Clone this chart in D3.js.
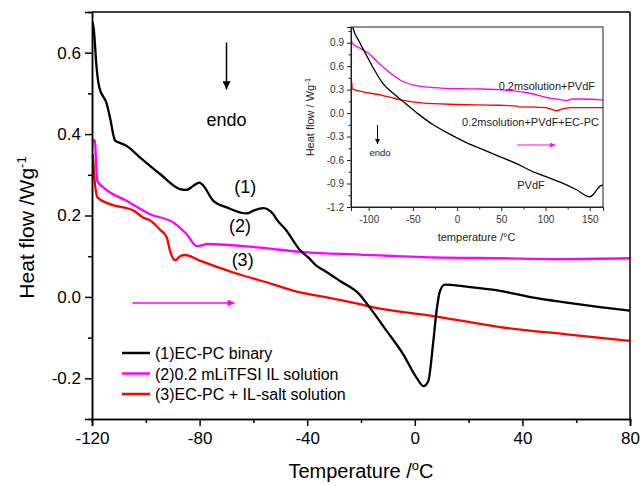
<!DOCTYPE html>
<html><head><meta charset="utf-8">
<script src="https://cdn.jsdelivr.net/npm/d3@7"></script>
<style>
html,body{margin:0;padding:0;background:#fff;}
svg{display:block;font-family:"Liberation Sans",Arial,Helvetica,sans-serif;}
</style></head>
<body>
<svg id="c" width="642" height="485"></svg>
<script>
// ---------- main chart data ----------
const xTicks = [-120, -80, -40, 0, 40, 80];
const yTicks = [-0.2, 0.0, 0.2, 0.4, 0.6];
const seriesNames = ["(1)EC-PC binary", "(2)0.2 mLiTFSI IL solution", "(3)EC-PC + IL-salt solution"];
const seriesColors = ["#000000", "#ff00ff", "#ff0000"];

const ecpcT = [-120, -119.8, -119.3, -118.3, -117.3, -114.5, -113.3, -111.4, -110.2, -107.1, -102.2, -94.7, -87.3, -84.8, -82.3, -80.1, -78.6, -74.9, -69.9, -62.5, -60, -56.3, -52.6, -51.3, -47.6, -45.2, -42.7, -39.6, -36.5, -34, -27.8, -20.4, -17.9, -10.4, -4.3, 0.7, 3.2, 5, 6.9, 8.1, 9.4, 11.2, 19.3, 31.7, 44.1, 56.5, 68.8, 80];
const ecpcV = [0.66, 0.675, 0.655, 0.564, 0.515, 0.474, 0.44, 0.384, 0.38, 0.371, 0.343, 0.302, 0.265, 0.263, 0.273, 0.281, 0.273, 0.236, 0.22, 0.205, 0.212, 0.218, 0.203, 0.19, 0.162, 0.138, 0.115, 0.097, 0.076, 0.066, 0.039, 0.005, -0.016, -0.084, -0.141, -0.199, -0.219, -0.207, -0.108, -0.034, 0.015, 0.03, 0.025, 0.015, -0.002, -0.014, -0.025, -0.034];

const ilT = [-120, -119.7, -118.9, -118.6, -118, -115.8, -107.1, -98.4, -89.8, -84.8, -81.1, -78.6, -77.4, -57.5, -41.4, -20.4, 6.9, 31.7, 54, 80];
const ilV = [0.36, 0.384, 0.385, 0.343, 0.285, 0.269, 0.236, 0.203, 0.183, 0.154, 0.125, 0.128, 0.13, 0.121, 0.11, 0.104, 0.097, 0.095, 0.093, 0.095];

const mixT = [-120, -119.7, -119.2, -117.9, -113.3, -104.6, -101, -98.4, -94.7, -92.2, -91, -89.1, -87.3, -85.4, -79.9, -67.5, -52.6, -42.7, -35.2, -20.4, -17.9, 6.9, 31.7, 56.5, 80];
const mixV = [0.285, 0.351, 0.30, 0.244, 0.228, 0.212, 0.195, 0.188, 0.165, 0.146, 0.113, 0.09, 0.1, 0.103, 0.089, 0.06, 0.031, 0.011, 0.002, -0.018, -0.022, -0.047, -0.074, -0.092, -0.108];

const curveLabels = ["(1)", "(2)", "(3)"];

// ---------- inset data ----------
const inXTicks = [-100, -50, 0, 50, 100, 150];
const inYTicks = [-1.2, -0.9, -0.6, -0.3, 0.0, 0.3, 0.6, 0.9];
const inNames = ["0.2msolution+PVdF", "0.2msolution+PVdF+EC-PC", "PVdF"];

const inMagT = [-120, -119.5, -118.5, -110, -101, -86, -64, -41, -18, 20, 47, 80, 105, 118, 124, 130, 140, 165];
const inMagV = [0.86, 0.93, 0.89, 0.83, 0.77, 0.61, 0.42, 0.34, 0.32, 0.31, 0.30, 0.26, 0.19, 0.17, 0.16, 0.18, 0.18, 0.17];

const inRedT = [-120, -119.5, -118.5, -110, -86, -75, -64, -40, 0, 47, 68, 70, 75, 100, 113, 118, 128, 165];
const inRedV = [0.33, 0.42, 0.31, 0.28, 0.23, 0.20, 0.17, 0.13, 0.11, 0.10, 0.09, 0.075, 0.08, 0.07, 0.03, 0.05, 0.07, 0.07];

const inBlkT = [-122, -118, -111, -104, -94, -84, -72, -59, -44, -27, -10, 11, 30, 49, 68, 86, 100, 116, 135, 150, 154, 158, 162, 165];
const inBlkV = [1.35, 1.1, 0.92, 0.77, 0.56, 0.38, 0.25, 0.13, -0.01, -0.15, -0.26, -0.38, -0.47, -0.56, -0.65, -0.75, -0.81, -0.88, -0.98, -1.07, -1.04, -0.98, -0.93, -0.92];

// ---------- drawing ----------
const svg = d3.select("#c");
const M = {l: 92, r: 630, t: 12, b: 419};
const x = d3.scaleLinear().domain([-120, 80]).range([M.l, M.r]);
const y = d3.scaleLinear().domain([-0.3, 0.7]).range([M.b, M.t]);

const g = svg.append("g");
const clipMain = svg.append("defs").append("clipPath").attr("id", "cm");
clipMain.append("rect").attr("x", M.l).attr("y", M.t).attr("width", M.r - M.l).attr("height", M.b - M.t);

const mkLine = (xs, ys) => d3.line().x(d => xs(d[0])).y(d => ys(d[1])).curve(d3.curveMonotoneX);
const zip = (a, b) => a.map((v, i) => [v, b[i]]);

const mainData = [zip(ecpcT, ecpcV), zip(ilT, ilV), zip(mixT, mixV)];
// draw order: red, magenta, black
[2, 1, 0].forEach(i => {
  g.append("path").attr("clip-path", "url(#cm)").attr("d", mkLine(x, y)(mainData[i]))
    .attr("fill", "none").attr("stroke", seriesColors[i]).attr("stroke-width", 2.3)
    .attr("stroke-linejoin", "round");
});

// frame top/right
g.append("line").attr("x1", M.l).attr("x2", M.r).attr("y1", M.t).attr("y2", M.t).attr("stroke", "#000").attr("stroke-width", 1.5);
g.append("line").attr("x1", M.r).attr("x2", M.r).attr("y1", M.t).attr("y2", M.b).attr("stroke", "#000").attr("stroke-width", 1.5);

// axes
const xAxis = g.append("g").attr("transform", `translate(0,${M.b})`)
  .call(d3.axisBottom(x).tickValues(xTicks).tickFormat(d3.format("d")).tickSize(7).tickPadding(6));
const xMinor = g.append("g").attr("transform", `translate(0,${M.b})`)
  .call(d3.axisBottom(x).tickValues(d3.range(-100, 80, 40)).tickFormat("").tickSize(4));
const yAxis = g.append("g").attr("transform", `translate(${M.l},0)`)
  .call(d3.axisLeft(y).tickValues(yTicks).tickFormat(d3.format(".1f")).tickSize(7).tickPadding(4));
const yMinor = g.append("g").attr("transform", `translate(${M.l},0)`)
  .call(d3.axisLeft(y).tickValues([-0.1, 0.1, 0.3, 0.5]).tickFormat("").tickSize(4));
[xAxis, xMinor, yAxis, yMinor].forEach(a => {
  a.select(".domain").attr("stroke", "#000").attr("stroke-width", 1.5);
  a.selectAll(".tick line").attr("stroke", "#000").attr("stroke-width", 1.5);
  a.selectAll("text").attr("font-size", 17).attr("fill", "#000").attr("font-family", "Liberation Sans, Arial, sans-serif");
});
yAxis.selectAll("text").text(d => d === 0 ? "0.0" : d3.format(".1f")(d).replace("−", "-"));
xAxis.selectAll("text").text(d => String(d));

// axis titles
const yl = g.append("text").attr("transform", `translate(34,${(M.t + M.b) / 2 + 12}) rotate(-90)`)
  .attr("text-anchor", "middle").attr("font-size", 21).attr("fill", "#000");
yl.append("tspan").text("Heat flow /Wg");
yl.append("tspan").attr("dy", -8).attr("font-size", 13).text("-1");
const xl = g.append("text").attr("x", (M.l + M.r) / 2).attr("y", 478)
  .attr("text-anchor", "middle").attr("font-size", 20).attr("fill", "#000");
xl.append("tspan").text("Temperature /");
xl.append("tspan").attr("dy", -8).attr("font-size", 13).text("o");
xl.append("tspan").attr("dy", 8).text("C");

// curve labels
const clPos = [[-63, 0.255], [-65, 0.16], [-64, 0.077]];
curveLabels.forEach((t, i) => {
  g.append("text").attr("x", x(clPos[i][0])).attr("y", y(clPos[i][1]))
    .attr("text-anchor", "middle").attr("font-size", 18).attr("fill", "#000").text(t);
});
g.append("text").attr("x", x(-70)).attr("y", y(0.42)).attr("text-anchor", "middle")
  .attr("font-size", 18).attr("fill", "#000").text("endo");

// arrows
const defs = svg.select("defs");
function marker(id, color, w, h) {
  defs.append("marker").attr("id", id).attr("viewBox", "0 0 10 10").attr("refX", 10).attr("refY", 5)
    .attr("markerWidth", w).attr("markerHeight", h).attr("markerUnits", "userSpaceOnUse").attr("orient", "auto")
    .append("path").attr("d", "M0,0L10,5L0,10z").attr("fill", color);
}
marker("ab", "#000", 10, 8);
marker("am", "#ff00ff", 12, 7);
marker("abs", "#000", 6, 5);
marker("ams", "#ff00ff", 7, 5);
g.append("line").attr("x1", x(-70)).attr("x2", x(-70)).attr("y1", y(0.625)).attr("y2", y(0.51))
  .attr("stroke", "#000").attr("stroke-width", 1.5).attr("marker-end", "url(#ab)");
g.append("line").attr("x1", x(-105)).attr("x2", x(-67)).attr("y1", y(-0.015)).attr("y2", y(-0.015))
  .attr("stroke", "#ff00ff").attr("stroke-width", 1.5).attr("marker-end", "url(#am)");

// legend
seriesNames.forEach((n, i) => {
  const yy = 353 + i * 20.5;
  g.append("line").attr("x1", 122).attr("x2", 150).attr("y1", yy).attr("y2", yy)
    .attr("stroke", seriesColors[i]).attr("stroke-width", 2.5);
  g.append("text").attr("x", 155).attr("y", yy + 6).attr("font-size", 16).attr("fill", "#000").text(n);
});

// ---------- inset ----------
const ig = svg.append("g");
ig.append("rect").attr("x", 300).attr("y", 13).attr("width", 329).attr("height", 236).attr("fill", "#fff");
const I = {l: 351, r: 603, t: 27, b: 207};
const ix = d3.scaleLinear().domain([-120, 165]).range([I.l, I.r]);
const iy = d3.scaleLinear().domain([-1.2, 1.1]).range([I.b, I.t]);
defs.append("clipPath").attr("id", "ci").append("rect").attr("x", I.l).attr("y", I.t).attr("width", I.r - I.l).attr("height", I.b - I.t);
const inData = [zip(inMagT, inMagV), zip(inRedT, inRedV), zip(inBlkT, inBlkV)];
const inColors = ["#ff00ff", "#ff0000", "#000000"];
inData.forEach((d, i) => {
  ig.append("path").attr("clip-path", "url(#ci)").attr("d", mkLine(ix, iy)(d))
    .attr("fill", "none").attr("stroke", inColors[i]).attr("stroke-width", 1.3);
});
ig.append("rect").attr("x", I.l).attr("y", I.t).attr("width", I.r - I.l).attr("height", I.b - I.t)
  .attr("fill", "none").attr("stroke", "#222").attr("stroke-width", 1);
const ixa = ig.append("g").attr("transform", `translate(0,${I.b})`)
  .call(d3.axisBottom(ix).tickValues(inXTicks).tickFormat(d3.format("d")).tickSize(4).tickPadding(5));
const ixm = ig.append("g").attr("transform", `translate(0,${I.b})`)
  .call(d3.axisBottom(ix).tickValues(d3.range(-75, 165, 50)).tickFormat("").tickSize(2.5));
const iya = ig.append("g").attr("transform", `translate(${I.l},0)`)
  .call(d3.axisLeft(iy).tickValues(inYTicks).tickFormat(d3.format(".1f")).tickSize(4).tickPadding(3));
const iym = ig.append("g").attr("transform", `translate(${I.l},0)`)
  .call(d3.axisLeft(iy).tickValues(d3.range(-1.05, 1.1, 0.3)).tickFormat("").tickSize(2.5));
[ixa, ixm, iya, iym].forEach(a => {
  a.select(".domain").attr("stroke", "#222").attr("stroke-width", 1);
  a.selectAll(".tick line").attr("stroke", "#222");
  a.selectAll("text").attr("font-size", 10).attr("fill", "#333").attr("font-family", "Liberation Sans, Arial, sans-serif");
});
iya.selectAll("text").text(d => d3.format(".1f")(d).replace("−", "-"));
ixa.selectAll("text").text(d => String(d));

const iyl = ig.append("text").attr("transform", `translate(314,${(I.t + I.b) / 2}) rotate(-90)`)
  .attr("text-anchor", "middle").attr("font-size", 11).attr("fill", "#222");
iyl.append("tspan").text("Heat flow / Wg");
iyl.append("tspan").attr("dy", -4).attr("font-size", 8).text("-1");
ig.append("text").attr("x", ix(22)).attr("y", 241).attr("text-anchor", "middle")
  .attr("font-size", 11).attr("fill", "#222").text("temperature /°C");

const inLab = [[595, 90, "end"], [599, 126, "end"], [531, 189, "middle"]];
inNames.forEach((n, i) => {
  ig.append("text").attr("x", inLab[i][0]).attr("y", inLab[i][1]).attr("text-anchor", inLab[i][2])
    .attr("font-size", 11).attr("fill", "#222").text(n);
});
ig.append("text").attr("x", 380).attr("y", 156).attr("text-anchor", "middle")
  .attr("font-size", 9.5).attr("fill", "#222").text("endo");
ig.append("line").attr("x1", ix(-90)).attr("x2", ix(-90)).attr("y1", 125).attr("y2", 144)
  .attr("stroke", "#000").attr("stroke-width", 1).attr("marker-end", "url(#abs)");
ig.append("line").attr("x1", ix(68)).attr("x2", ix(111)).attr("y1", 145).attr("y2", 145)
  .attr("stroke", "#ff00ff").attr("stroke-width", 1).attr("marker-end", "url(#ams)");
</script>
</body></html>
